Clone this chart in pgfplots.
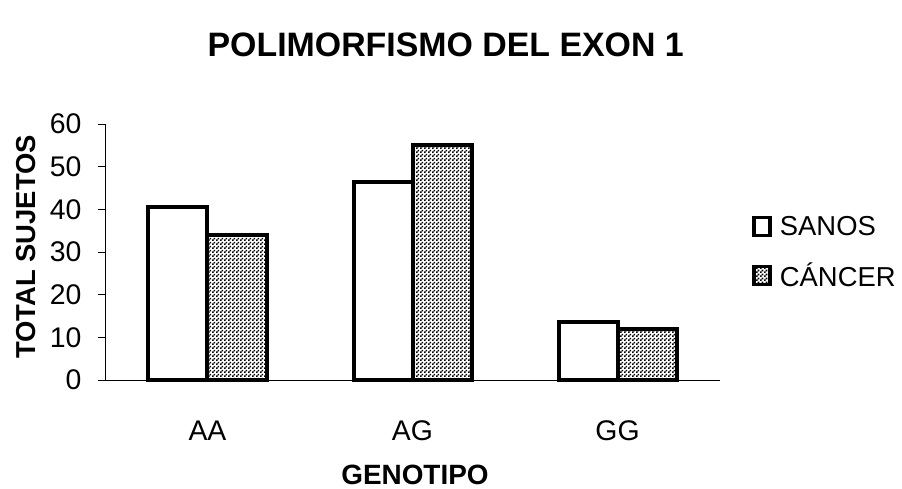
\documentclass[border=0pt]{standalone}
\usepackage{fontspec}
\setmainfont{Liberation Sans}
\usepackage{pgfplots}
\pgfplotsset{compat=1.18}
\usetikzlibrary{patterns}
\pgfdeclarepatternformonly{mychecker}{\pgfpointorigin}{\pgfqpoint{4bp}{4bp}}{\pgfqpoint{4bp}{4bp}}{%
  \pgfpathrectangle{\pgfpointorigin}{\pgfqpoint{2bp}{2bp}}%
  \pgfpathrectangle{\pgfqpoint{2bp}{2bp}}{\pgfqpoint{2bp}{2bp}}%
  \pgfusepath{fill}}
\begin{document}
\begin{tikzpicture}
\begin{axis}[
  at={(0,0)}, anchor=south west,
  scale only axis, width=615bp, height=256bp,
  ybar=0pt, bar width=59bp,
  xmin=0.5, xmax=3.5, ymin=0, ymax=60,
  axis lines=left, axis line style={-, line width=0.9bp},
  xtick={1,2,3}, xticklabels={AA,AG,GG},
  major x tick style={draw=none},
  extra x ticks={0.5,1.5,2.5,3.5}, extra x tick labels={},
  extra x tick style={major tick length=7bp, tick style={line width=0.9bp, black}},
  ytick={0,10,...,60},
  tick align=outside, major tick length=7bp,
  tick style={line width=0.9bp, black},
  /pgf/number format/assume math mode=true,
  ticklabel style={font=\fontsize{28.5}{32}\selectfont},
  xticklabel style={anchor=base, yshift=-53bp},
  yticklabel style={xshift=-13bp},
  legend style={draw=none, at={(1.052,0.5)}, anchor=west,
    font=\fontsize{27.5}{33}\selectfont, row sep=20bp, inner sep=0pt,
    nodes={inner sep=3bp}},
  legend cell align=left,
  legend image code/.code={\draw[#1, line width=3.5bp] (0bp,-9bp) rectangle (16bp,9bp); \path (21bp,0bp);},
  clip=false,
]
\addplot[draw=black, line width=4bp, fill=white] coordinates {(1,40.6) (2,46.3) (3,13.7)};
\addplot[draw=black, line width=4bp, pattern=mychecker] coordinates {(1,34.0) (2,55.1) (3,12.0)};
\legend{SANOS, CÁNCER}
\node[font=\bfseries\fontsize{34}{40}\selectfont] at (rel axis cs:0.554,1.31) {POLIMORFISMO DEL EXON 1};
\node[font=\bfseries\fontsize{27.5}{32}\selectfont, rotate=90] at (rel axis cs:-0.128,0.52) {TOTAL SUJETOS};
\node[font=\bfseries\fontsize{28}{32}\selectfont] at (rel axis cs:0.504,-0.371) {GENOTIPO};
\end{axis}
\path[use as bounding box] (-105bp,-109bp) rectangle (797bp,380bp);
\end{tikzpicture}
\end{document}
